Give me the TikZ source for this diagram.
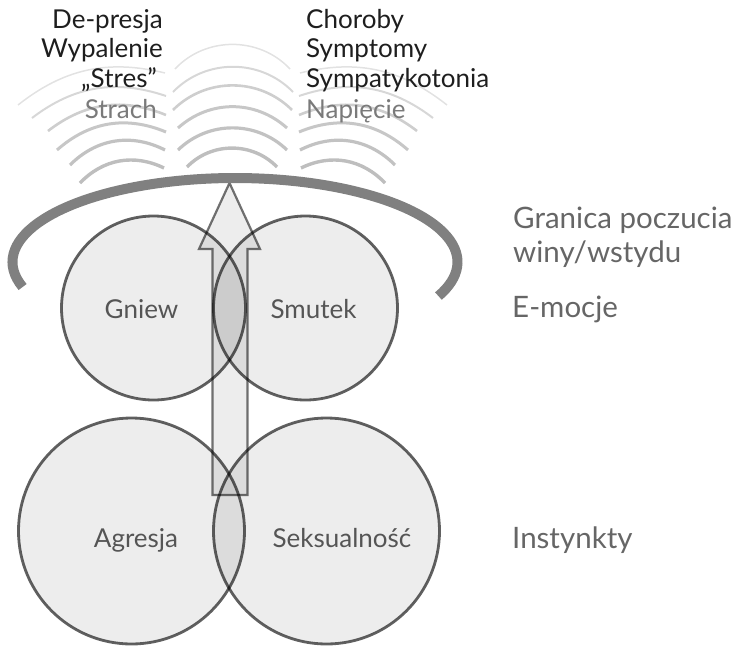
\documentclass[tikz,border=0pt]{standalone}
\usepackage{fontspec}
\setmainfont{Lato}
\definecolor{topink}{HTML}{1E1E1E}
\definecolor{topgray}{HTML}{7A7A7A}
\definecolor{lblgray}{HTML}{555555}
\definecolor{sidegray}{HTML}{666666}
\definecolor{bargray}{HTML}{808080}
\tikzset{
  wone/.style={draw={rgb,255:red,190;green,190;blue,190}, line width=3.4pt},
  wtwo/.style={draw={rgb,255:red,194;green,194;blue,194}, line width=3.2pt},
  wthree/.style={draw={rgb,255:red,199;green,199;blue,199}, line width=3.0pt},
  wfour/.style={draw={rgb,255:red,206;green,206;blue,206}, line width=2.6pt},
  wfive/.style={draw={rgb,255:red,215;green,215;blue,215}, line width=2.0pt},
  wsix/.style={draw={rgb,255:red,226;green,226;blue,226}, line width=1.5pt},
  venn/.style={draw=black, draw opacity=0.62, line width=2.8pt, fill=black, fill opacity=0.07},
  upbox/.style={draw=black, draw opacity=0.55, line width=2.2pt, fill=black, fill opacity=0.07, line join=miter},
  border/.style={draw=bargray, line width=10pt},
  toptext/.style={inner sep=0pt, font=\fontsize{26}{30}\selectfont, text=topink},
  topfaint/.style={toptext, text=topgray},
  inlabel/.style={inner sep=0pt, font=\fontsize{26}{31}\selectfont, text=lblgray, anchor=base},
  sidelabel/.style={inner sep=0pt, font=\fontsize{29.5}{35}\selectfont, text=sidegray, anchor=base west}
}
\begin{document}
\begin{tikzpicture}[x=1pt,y=1pt]
\useasboundingbox (0,0) rectangle (732,-646);
% waves, left group
\draw[wone]   (80,-183) to[bend left=36] (164,-168);
\draw[wtwo]   (70,-165) to[bend left=36] (165,-150);
\draw[wthree] (57,-150) to[bend left=32] (166,-132);
\draw[wfour]  (48,-131) to[bend left=30] (166,-115);
\draw[wfive]  (32,-118) to[bend left=28] (166,-96);
\draw[wsix]   (18,-105) to[bend left=26] (165,-73);
% waves, middle group
\draw[wone]   (187,-167) to[bend left=46] (277,-167);
\draw[wtwo]   (178,-150) to[bend left=44] (287,-150);
\draw[wthree] (178,-128) to[bend left=42] (287,-128);
\draw[wfour]  (173,-110) to[bend left=45] (292,-110);
\draw[wfive]  (173,-92) to[bend left=46] (293,-92);
\draw[wsix]   (175,-69) to[bend left=47] (290,-69);
% waves, right group
\draw[wone]   (301,-168) to[bend left=36] (385,-183);
\draw[wtwo]   (300,-150) to[bend left=36] (395,-165);
\draw[wthree] (299,-132) to[bend left=32] (408,-150);
\draw[wfour]  (299,-115) to[bend left=30] (417,-131);
\draw[wfive]  (299,-96) to[bend left=28] (433,-118);
\draw[wsix]   (300,-73) to[bend left=26] (447,-105);
% circles
\coordinate (cgniew) at (153.5,-308);
\coordinate (csmutek) at (305.5,-308);
\coordinate (cagresja) at (131.5,-531);
\coordinate (cseks) at (326.5,-531);
\draw[venn] (cgniew) circle[radius=92];
\draw[venn] (csmutek) circle[radius=92];
\draw[venn] (cagresja) circle[radius=113];
\draw[venn] (cseks) circle[radius=113];
% upward arrow
\draw[upbox] (212.5,-495) -- (212.5,-249) -- (199,-249) -- (229.5,-183)
  -- (260,-249) -- (247.5,-249) -- (247.5,-495) -- cycle;
% boundary arc
\draw[border] (22.6,-287) arc[start angle=197.3, end angle=-23.9, x radius=222.5, y radius=84];
% top texts
\node[toptext, anchor=base east] (depresja) at (163,-28) {De-presja};
\node[toptext, anchor=base east] (wypalenie) at (163,-57) {Wypalenie};
\node[toptext, anchor=base east] (stres) at (157,-87) {„Stres”};
\node[topfaint, anchor=base east] (strach) at (157,-118) {Strach};
\node[toptext, anchor=base west] (choroby) at (306,-28) {Choroby};
\node[toptext, anchor=base west] (symptomy) at (306,-57) {Symptomy};
\node[toptext, anchor=base west] (sympat) at (306,-87) {Sympatykotonia};
\node[topfaint, anchor=base west] (napiecie) at (306,-118) {Napięcie};
% circle labels
\node[inlabel] (gniew) at (141.5,-318) {Gniew};
\node[inlabel] (smutek) at (313.5,-318) {Smutek};
\node[inlabel] (agresja) at (136,-547) {Agresja};
\node[inlabel] (seks) at (342,-547) {Seksualność};
% side labels
\node[sidelabel] (granica) at (513,-228) {Granica poczucia};
\node[sidelabel] (winy) at (513,-262) {winy/wstydu};
\node[sidelabel] (emocje) at (512,-317) {E-mocje};
\node[sidelabel] (instynkty) at (512,-548) {Instynkty};
\end{tikzpicture}
\end{document}
